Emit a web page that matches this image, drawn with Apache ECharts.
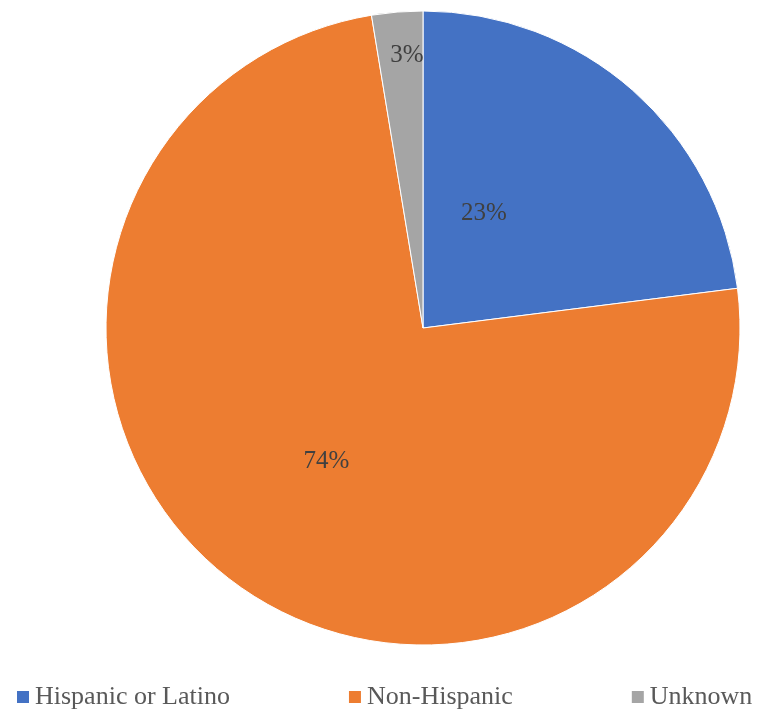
<!DOCTYPE html>
<html>
<head>
<meta charset="utf-8">
<script src="https://cdn.jsdelivr.net/npm/echarts@6/dist/echarts.min.js"></script>
<style>
  html, body { margin: 0; padding: 0; background: #fff; }
  #chart { width: 762px; height: 715px; }
</style>
</head>
<body>
<div id="chart"></div>
<script>
// ethnicity shares, percent
const categories = ["Hispanic or Latino", "Non-Hispanic", "Unknown"];
const shares = [23.0, 74.4, 2.6];
const colors = ["#4472C4", "#ED7D31", "#A5A5A5"];
// nudges from the default inside spot, to sit where the original puts each label
const labelNudge = [[-46, 7], [0, 4], [-3, -112]];

const chart = echarts.init(document.getElementById("chart"));
chart.setOption({
  animation: false,
  legend: {
    data: categories,
    left: 15, bottom: 5, padding: 0,
    icon: "rect", itemWidth: 14, itemHeight: 14, itemGap: 117,
    textStyle: { fontFamily: "Liberation Serif", fontSize: 26, color: "#595959" }
  },
  series: [{
    type: "pie",
    center: [423, 328],
    radius: 317,
    startAngle: 90,
    clockwise: true,
    avoidLabelOverlap: false,
    itemStyle: { borderColor: "#fff", borderWidth: 1 },
    label: {
      show: true, position: "inside",
      fontFamily: "Liberation Serif", fontSize: 25, color: "#404040",
      formatter: (p) => Math.round(p.percent) + "%"
    },
    labelLine: { show: false },
    labelLayout: (p) => ({ dx: labelNudge[p.dataIndex][0], dy: labelNudge[p.dataIndex][1] }),
    data: categories.map((name, i) => ({ name, value: shares[i], itemStyle: { color: colors[i] } }))
  }]
});
</script>
</body>
</html>
